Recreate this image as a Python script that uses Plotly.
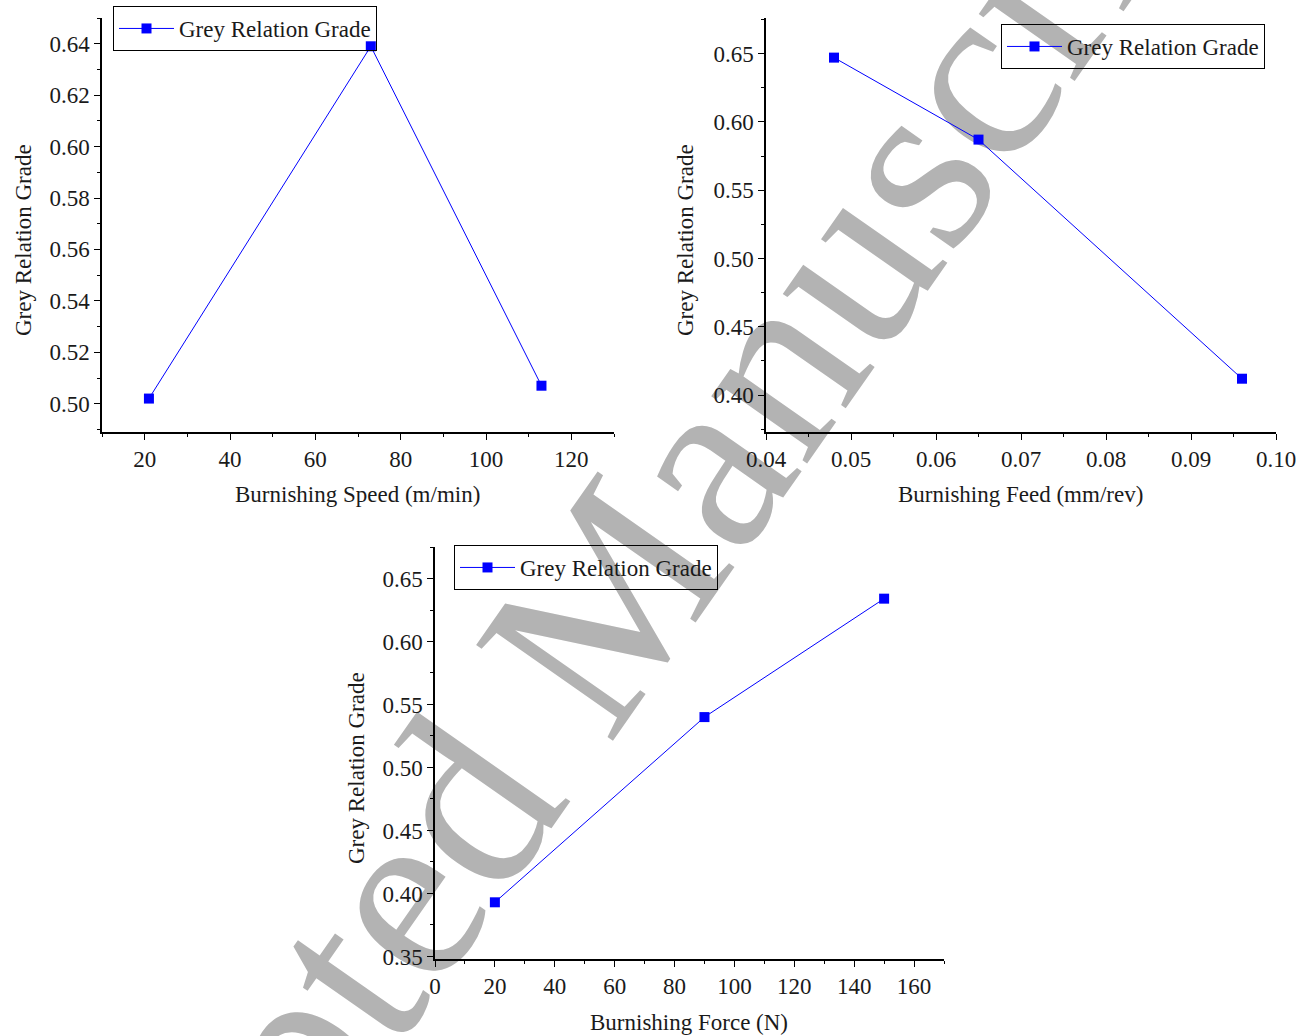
import plotly.graph_objects as go

# Grey relation grade versus each burnishing parameter
speed = [21, 73, 113]
speed_grade = [0.502, 0.639, 0.507]

feed = [0.048, 0.065, 0.096]
feed_grade = [0.647, 0.587, 0.412]

force = [20, 90, 150]
force_grade = [0.393, 0.540, 0.634]

series_name = "Grey Relation Grade"
y_title = "Grey Relation Grade"
x_titles = ["Burnishing Speed (m/min)", "Burnishing Feed (mm/rev)", "Burnishing Force (N)"]

W, H = 1309, 1036
SERIF = "Liberation Serif"
BLUE = "#0000ff"
INK = "#1a1a1a"


def px_x(v):
    return v / W


def px_y(v):
    return 1 - v / H


fig = go.Figure()

data = [(speed, speed_grade, "x", "y", "legend"),
        (feed, feed_grade, "x2", "y2", "legend2"),
        (force, force_grade, "x3", "y3", "legend3")]
for xs, ys, xa, ya, lg in data:
    fig.add_trace(go.Scatter(
        x=xs, y=ys, xaxis=xa, yaxis=ya, legend=lg, name=series_name,
        mode="lines+markers", showlegend=True,
        line=dict(color=BLUE, width=1),
        marker=dict(symbol="square", size=10, color=BLUE),
    ))

tickfont = dict(family=SERIF, size=23, color=INK)


def axis(domain, rng, dtick, minor_dtick, anchor, fmt=None):
    d = dict(domain=domain, range=rng, anchor=anchor, showline=True, linecolor="black",
             linewidth=1.5, ticks="outside", ticklen=6, tickwidth=1.3, tickcolor="black",
             showgrid=False, zeroline=False, tickfont=tickfont, mirror=False,
             dtick=dtick, tick0=0, automargin=False,
             minor=dict(ticks="outside", ticklen=3.5, tickwidth=1.2, tickcolor="black",
                        dtick=minor_dtick, showgrid=False))
    if fmt:
        d["tickformat"] = fmt
    return d


# panel frames in pixels: left, right, top, bottom
p1 = (102, 614, 18, 432)
p2 = (766, 1276, 18, 432)
p3 = (435, 944, 547, 959)


def dom(p):
    return [px_x(p[0]), px_x(p[1])], [px_y(p[3]), px_y(p[2])]


d1x, d1y = dom(p1)
d2x, d2y = dom(p2)
d3x, d3y = dom(p3)

fig.update_layout(
    xaxis=axis(d1x, [10, 130], 20, 10, "y"),
    yaxis=axis(d1y, [0.489, 0.65], 0.02, 0.01, "x", ".2f"),
    xaxis2=axis(d2x, [0.04, 0.10], 0.01, 0.005, "y2", ".2f"),
    yaxis2=axis(d2y, [0.373, 0.676], 0.05, 0.025, "x2", ".2f"),
    xaxis3=axis(d3x, [0, 170], 20, 10, "y3"),
    yaxis3=axis(d3y, [0.348, 0.675], 0.05, 0.025, "x3", ".2f"),
)

legend_style = dict(bgcolor="rgba(255,255,255,0)", bordercolor="black", borderwidth=1,
                    font=dict(family=SERIF, size=23, color=INK),
                    xanchor="left", yanchor="top", itemwidth=55,
                    tracegroupgap=0)
fig.update_layout(
    legend=dict(x=px_x(113), y=px_y(6), **legend_style),
    legend2=dict(x=px_x(1001), y=px_y(24), **legend_style),
    legend3=dict(x=px_x(454), y=px_y(545), **legend_style),
)

titlefont = dict(family=SERIF, size=23, color=INK)
ann = []
for (xc, yc) in [(24, 240), (686, 240), (356, 768)]:
    ann.append(dict(x=px_x(xc), y=px_y(yc), xref="paper", yref="paper", text=y_title,
                    xanchor="center", yanchor="middle",
                    showarrow=False, textangle=-90, font=titlefont))
for (xc, yc), t in zip([(357, 494), (1020, 494), (689, 1022)], x_titles):
    ann.append(dict(x=px_x(xc), y=px_y(yc), xref="paper", yref="paper", text=t,
                    xanchor="center", yanchor="middle",
                    showarrow=False, font=titlefont))

# diagonal watermark drawn beneath the data
cx, cy = 554, 626
fig.add_shape(type="rect", xref="paper", yref="paper",
              x0=px_x(cx - 5), x1=px_x(cx + 5), y0=px_y(cy + 5), y1=px_y(cy - 5),
              line=dict(width=0), fillcolor="rgba(0,0,0,0)", layer="below",
              label=dict(text="Accepted Manuscript", textangle=-55,
                         textposition="middle center",
                         font=dict(family=SERIF, size=255, color="#b3b3b3")))

fig.update_layout(
    width=W, height=H, margin=dict(l=0, r=0, t=0, b=0, autoexpand=False),
    paper_bgcolor="white", plot_bgcolor="rgba(0,0,0,0)",
    annotations=ann,
)

fig.write_html("out.html")
